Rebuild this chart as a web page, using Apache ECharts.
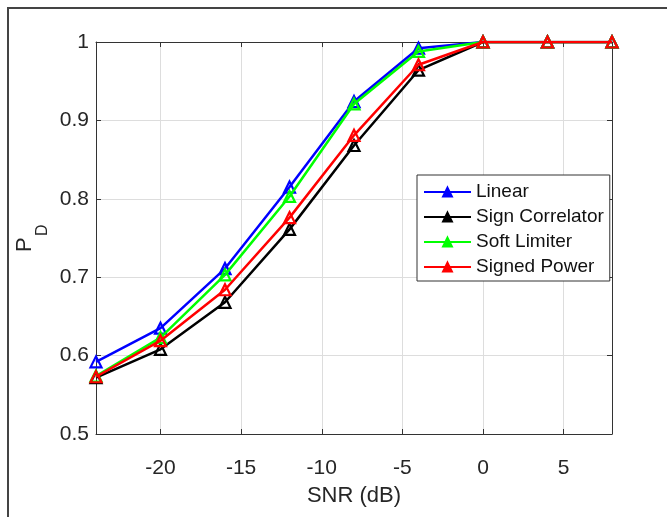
<!DOCTYPE html>
<html>
<head>
<meta charset="utf-8">
<script src="https://cdn.jsdelivr.net/npm/echarts@6/dist/echarts.min.js"></script>
<style>
html,body{margin:0;padding:0;background:#fff;}
#c{width:667px;height:517px;}
</style>
</head>
<body>
<div id="c"></div>
<script>
const snr = [-24, -20, -16, -12, -8, -4, 0, 4, 8];
const linear = [0.592, 0.635, 0.711, 0.815, 0.924, 0.992, 1, 1, 1];
const signCorrelator = [0.572, 0.608, 0.668, 0.761, 0.868, 0.964, 1, 1, 1];
const softLimiter = [0.574, 0.623, 0.703, 0.803, 0.921, 0.988, 1, 1, 1];
const signedPower = [0.573, 0.619, 0.684, 0.776, 0.881, 0.971, 1, 1, 1];
const xTicks = [-20, -15, -10, -5, 0, 5];
const seriesNames = ['Linear', 'Sign Correlator', 'Soft Limiter', 'Signed Power'];
const seriesColors = ['#0000ff', '#000000', '#00ff00', '#ff0000'];
const seriesValues = [linear, signCorrelator, softLimiter, signedPower];

const FONT = "'Liberation Sans', Arial, Helvetica, sans-serif";
const AX = '#333333';
const chart = echarts.init(document.getElementById('c'), null, {renderer: 'canvas'});

const series = seriesNames.map((n, i) => ({
  name: n,
  type: 'line',
  data: snr.map((x, k) => [x, seriesValues[i][k]]),
  symbol: 'triangle',
  symbolSize: 11,
  showAllSymbol: true,
  lineStyle: {color: seriesColors[i], width: 2.5},
  itemStyle: {color: 'rgba(255,255,255,0)', borderColor: seriesColors[i], borderWidth: 2.2},
  emphasis: {disabled: true},
  animation: false,
  z: 3 + i
}));

chart.setOption({
  animation: false,
  backgroundColor: '#fff',
  grid: {left: 96, top: 42, right: 55, bottom: 83, containLabel: false},
  legend: {
    data: seriesNames.map((n, i) => ({name: n, itemStyle: {color: seriesColors[i], borderColor: seriesColors[i]}})),
    orient: 'vertical',
    left: 417, top: 175,
    itemWidth: 47, itemHeight: 11, itemGap: 5,
    padding: [7, 6, 4, 6],
    backgroundColor: '#fff',
    borderColor: '#333', borderWidth: 1,
    textStyle: {fontFamily: FONT, fontSize: 19, color: '#111', lineHeight: 20},
    selectedMode: false
  },
  xAxis: [{
    type: 'value', min: -24, max: 8, position: 'bottom',
    name: 'SNR (dB)', nameLocation: 'middle', nameGap: 51,
    nameTextStyle: {fontFamily: FONT, fontSize: 22, color: '#262626'},
    axisLine: {show: true, onZero: false, lineStyle: {color: AX, width: 1}},
    axisTick: {show: true, inside: true, length: 5, customValues: xTicks, lineStyle: {color: AX}},
    axisLabel: {customValues: xTicks, fontFamily: FONT, fontSize: 21, color: '#262626', margin: 24},
    splitLine: {show: true, lineStyle: {color: '#dddddd', width: 1}}
  }, {
    type: 'value', min: -24, max: 8, position: 'top',
    axisLine: {show: true, onZero: false, lineStyle: {color: AX, width: 1}},
    axisTick: {show: true, inside: true, length: 5, customValues: xTicks, lineStyle: {color: AX}},
    axisLabel: {show: false},
    splitLine: {show: false}
  }],
  yAxis: [{
    type: 'value', min: 0.5, max: 1, interval: 0.1, position: 'left',
    axisLine: {show: true, onZero: false, lineStyle: {color: AX, width: 1}},
    axisTick: {show: true, inside: true, length: 5, lineStyle: {color: AX}},
    axisLabel: {fontFamily: FONT, fontSize: 21, color: '#262626', margin: 7},
    splitLine: {show: true, lineStyle: {color: '#dddddd', width: 1}}
  }, {
    type: 'value', min: 0.5, max: 1, interval: 0.1, position: 'right',
    axisLine: {show: true, onZero: false, lineStyle: {color: AX, width: 1}},
    axisTick: {show: true, inside: true, length: 5, lineStyle: {color: AX}},
    axisLabel: {show: false},
    splitLine: {show: false}
  }],
  graphic: [
    {type: 'rect', shape: {x: 8, y: 8, width: 720, height: 620}, style: {fill: 'none', stroke: '#444', lineWidth: 2}, silent: true, z: 100},
    {type: 'group', x: 25, y: 238, rotation: Math.PI / 2, children: [
      {type: 'text', x: -14, y: 0, style: {text: 'P', font: "22px 'Liberation Sans', Arial, sans-serif", fill: '#262626', textAlign: 'left', textVerticalAlign: 'middle'}},
      {type: 'text', x: 2, y: 18, style: {text: 'D', font: "16px 'Liberation Sans', Arial, sans-serif", fill: '#262626', textAlign: 'left', textVerticalAlign: 'middle'}}
    ]}
  ],
  series: series
});
</script>
</body>
</html>
